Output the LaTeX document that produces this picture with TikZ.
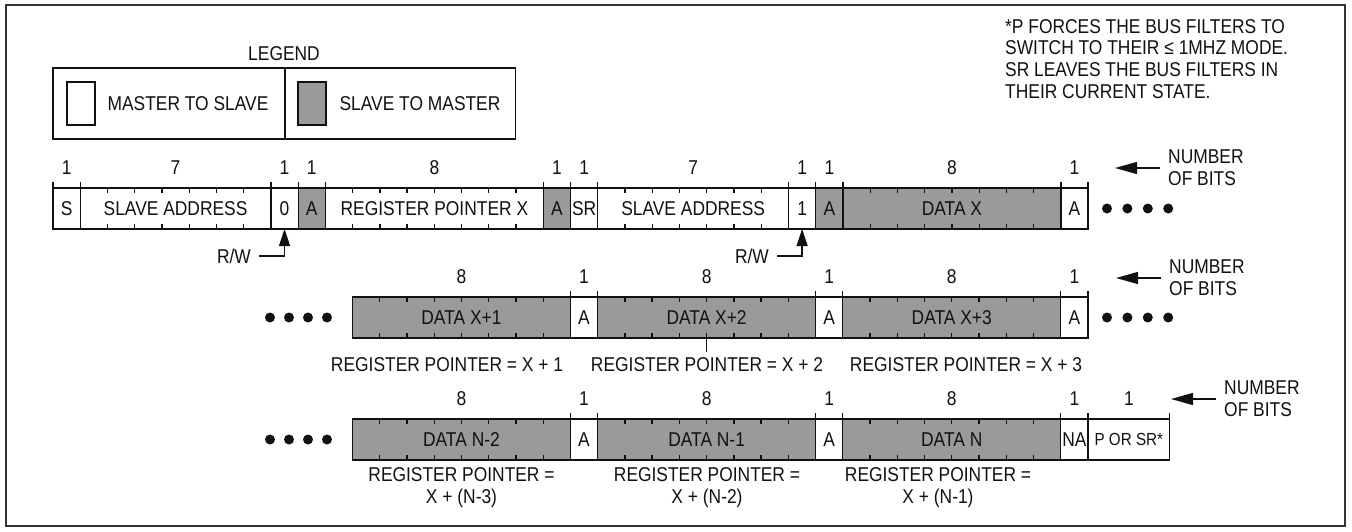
\documentclass[tikz,border=0pt]{standalone}
\usepackage{fontspec}
\setmainfont{Liberation Sans}[FakeStretch=0.87]
\usetikzlibrary{arrows.meta,positioning,calc}
\definecolor{ink}{HTML}{111111}
\definecolor{framegray}{HTML}{333333}
\definecolor{slavefill}{HTML}{9A9A9A}
\newcommand\bwidth{27.24}
\newcommand\psrfont{\fontsize{17.5}{20}\selectfont}
\tikzset{
  every node/.style={font=\fontsize{20}{21.7}\selectfont, text=ink, inner sep=0pt},
  field/.style={draw=ink, line width=1.3pt, minimum height=41pt, inner sep=0pt, outer sep=0pt, anchor=north west},
  mtos/.style={field, fill=white},
  stom/.style={field, fill=slavefill},
  tick/.style={draw=ink, line width=1.3pt},
  annot/.style={align=center},
  rwarrow/.style={-{Triangle[length=17pt,width=11pt]}, line width=1.3pt, draw=ink},
  bitsarrow/.style={-{Triangle[length=22pt,width=12pt]}, line width=1.3pt, draw=ink}
}
% one field of a row: box, bit count above, bit ticks, boundary tick
\newcommand\fieldbody{%
  \node[\sty, minimum width=\nb*\bwidth] (\rowid\nm) at ({\rowx+\bx*\bwidth},\rowy) {\txt};
  \node (\rowid\nm n) at ($(\rowid\nm.north)+(0,-20)$) {\nt};
  \pgfmathtruncatemacro\ntm{\nt-1}
  \ifnum\ntm>0
    \foreach \k in {1,...,\ntm}{
      \draw[tick] ({\rowx+(\bx+\k)*\bwidth},\rowy) -- ++(0,5);
      \draw[tick] ({\rowx+(\bx+\k)*\bwidth},\rowy+41) -- ++(0,-5);
    }
  \fi
  \ifnum\bx>0 \draw[tick] (\rowid\nm.north west) -- ++(0,-6); \fi
}

\begin{document}
\begin{tikzpicture}[x=1pt, y=-1pt]
  \useasboundingbox (0,0) rectangle (1352,531);
  % Outer frame
  \draw[framegray, line width=2pt] (6,5) rectangle (1345,526);

  % Legend
  \node (legtitle) at (284,54) {LEGEND};
  \node[mtos, minimum width=232pt, minimum height=71pt] (legm) at (53,68) {};
  \node[mtos, minimum width=230.5pt, minimum height=71pt] (legs) at (285,68) {};
  \node[mtos, minimum width=28pt, minimum height=43pt] (legmbox) at (67,82) {};
  \node[stom, minimum width=28pt, minimum height=43pt] (legsbox) at (298,82) {};
  \node (legmtxt) at (188,103.5) {MASTER TO SLAVE};
  \node (legstxt) at (420,103.5) {SLAVE TO MASTER};

  % Note on P and SR
  \node[align=left, anchor=north west] (note) at (1005,19)
    {*P FORCES THE BUS FILTERS TO\\SWITCH TO THEIR ≤ 1MHZ MODE.\\SR LEAVES THE BUS FILTERS IN\\THEIR CURRENT STATE.};

  % Row 1: write pointer, repeated start, first data byte
  \def\rowid{r1}\def\rowx{53}\def\rowy{188}
  \foreach \nm/\bx/\nb/\nt/\sty/\txt in {s/0/1/1/mtos/S, sa/1/7/7/mtos/SLAVE ADDRESS,
      w/8/1/1/mtos/0, a/9/1/1/stom/A, rp/10/8/8/mtos/REGISTER POINTER X, ab/18/1/1/stom/A,
      sr/19/1/1/mtos/SR, sb/20/7/7/mtos/SLAVE ADDRESS, r/27/1/1/mtos/1, ac/28/1/1/stom/A,
      d/29/8/8/stom/DATA X, ad/37/1/1/mtos/A}
    {\fieldbody}
  \draw[tick] (r1s.north west) -- ++(0,-6);
  \draw[tick] (r1ad.north east) -- ++(0,-6);

  % Row 2: following data bytes
  \def\rowid{r2}\def\rowx{352.5}\def\rowy{297}
  \foreach \nm/\bx/\nb/\nt/\sty/\txt in {d1/0/8/8/stom/DATA X+1, a1/8/1/1/mtos/A,
      d2/9/8/8/stom/DATA X+2, a2/17/1/1/mtos/A, d3/18/8/8/stom/DATA X+3, a3/26/1/1/mtos/A}
    {\fieldbody}
  \draw[tick] (r2a3.north east) -- ++(0,-6);

  % Row 3: last data bytes and stop
  \def\rowid{r3}\def\rowx{352.5}\def\rowy{419}
  \foreach \nm/\bx/\nb/\nt/\sty/\txt in {d1/0/8/8/stom/DATA N-2, a1/8/1/1/mtos/A,
      d2/9/8/8/stom/DATA N-1, a2/17/1/1/mtos/A, d3/18/8/8/stom/DATA N, na/26/1/1/mtos/NA,
      p/27/3/1/mtos/{\psrfont P OR SR*}}
    {\fieldbody}
  \draw[tick] (r3p.north east) -- ++(0,-6);

  % Continuation dots
  \foreach \i in {0,...,3}{
    \fill[ink] ({1107+20.4*\i},208.5) circle (5);
    \fill[ink] ({1107+20.4*\i},317.5) circle (5);
    \fill[ink] ({270+19*\i},317.5) circle (5);
    \fill[ink] ({270+19*\i},439.5) circle (5);
  }

  % R/W bits
  \node (rw1) at (234,256) {R/W};
  \node (rw2) at (752,256) {R/W};
  \draw[rwarrow] ([xshift=8pt]rw1.east) -| (r1w.south);
  \draw[rwarrow] ([xshift=8pt]rw2.east) -| (r1r.south);

  % Number of bits
  \node[align=left, anchor=west] (bits1) at (1168,168) {NUMBER\\OF BITS};
  \node[align=left, anchor=west] (bits2) at (1169,278) {NUMBER\\OF BITS};
  \node[align=left, anchor=west] (bits3) at (1224,399) {NUMBER\\OF BITS};
  \coordinate (bits1tip) at (1115,168);
  \coordinate (bits2tip) at (1116,278);
  \coordinate (bits3tip) at (1171,399);
  \draw[bitsarrow] ([xshift=-8pt]bits1.west) -- (bits1tip);
  \draw[bitsarrow] ([xshift=-8pt]bits2.west) -- (bits2tip);
  \draw[bitsarrow] ([xshift=-8pt]bits3.west) -- (bits3tip);

  % Register pointer values
  \node (rp1) at (447,365) {REGISTER POINTER = X + 1};
  \node (rp2) at (707,365) {REGISTER POINTER = X + 2};
  \node (rp3) at (966,365) {REGISTER POINTER = X + 3};
  \draw[tick, shorten >=6pt] (r2d2.south) -- (r2d2.south |- rp2.north);
  \node[annot] (rpn1) at (461.5,487.5) {REGISTER POINTER =\\X + (N-3)};
  \node[annot] (rpn2) at (707,487.5) {REGISTER POINTER =\\X + (N-2)};
  \node[annot] (rpn3) at (938,487.5) {REGISTER POINTER =\\X + (N-1)};
\end{tikzpicture}
\end{document}
